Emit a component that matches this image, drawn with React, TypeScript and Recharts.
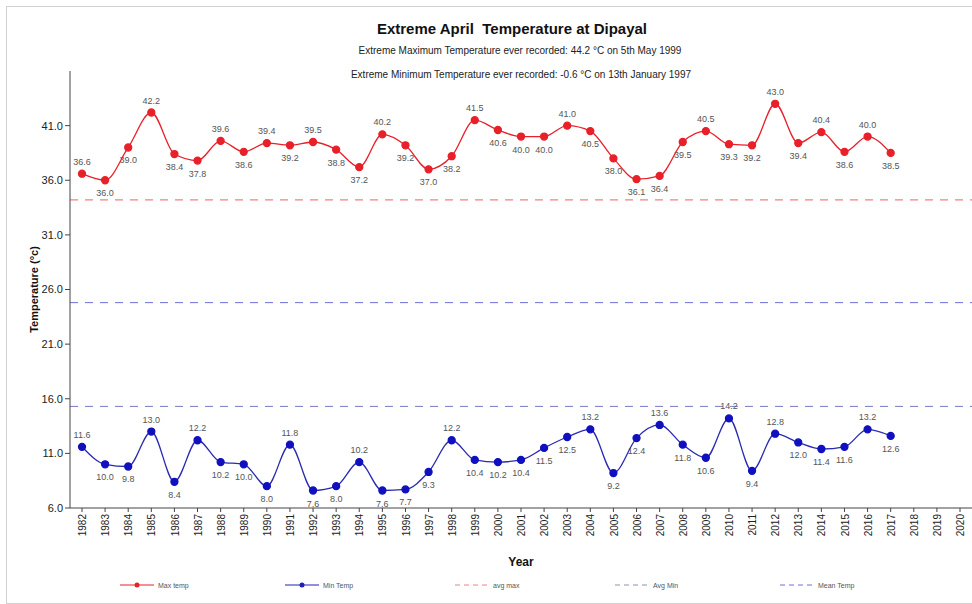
import React from 'react'
import { LineChart, Line, XAxis, YAxis, ReferenceLine, Legend } from 'recharts'

const years = [
  1982, 1983, 1984, 1985, 1986, 1987, 1988, 1989, 1990, 1991, 1992, 1993, 1994,
  1995, 1996, 1997, 1998, 1999, 2000, 2001, 2002, 2003, 2004, 2005, 2006, 2007,
  2008, 2009, 2010, 2011, 2012, 2013, 2014, 2015, 2016, 2017, 2018, 2019, 2020,
]
const maxTemp = [
  36.6, 36.0, 39.0, 42.2, 38.4, 37.8, 39.6, 38.6, 39.4, 39.2, 39.5, 38.8, 37.2,
  40.2, 39.2, 37.0, 38.2, 41.5, 40.6, 40.0, 40.0, 41.0, 40.5, 38.0, 36.1, 36.4,
  39.5, 40.5, 39.3, 39.2, 43.0, 39.4, 40.4, 38.6, 40.0, 38.5,
]
const minTemp = [
  11.6, 10.0, 9.8, 13.0, 8.4, 12.2, 10.2, 10.0, 8.0, 11.8, 7.6, 8.0, 10.2,
  7.6, 7.7, 9.3, 12.2, 10.4, 10.2, 10.4, 11.5, 12.5, 13.2, 9.2, 12.4, 13.6,
  11.8, 10.6, 14.2, 9.4, 12.8, 12.0, 11.4, 11.6, 13.2, 12.6,
]
const avgMax = 34.2
const avgMin = 15.3
const meanTemp = 24.8
const yTicks = [6, 11, 16, 21, 26, 31, 36, 41]

const data = years.map((year, i) => ({
  year: String(year),
  max: maxTemp[i],
  min: minTemp[i],
}))

const FONT = '"Liberation Sans", Arial, sans-serif'

// label above for local peaks, below otherwise
const makeLabel = (values: number[]) => (props: any) => {
  const { x, y, index, value } = props
  if (value == null) return null
  const prev = index > 0 ? values[index - 1] : -Infinity
  const next = index < values.length - 1 ? values[index + 1] : -Infinity
  const above = value >= prev && value >= next
  return (
    <text x={x} y={above ? y - 9 : y + 16} textAnchor="middle" fontSize={9} fill="#555" fontFamily={FONT}>
      {value.toFixed(1)}
    </text>
  )
}

const legendItems = [
  { name: 'Max temp', color: '#e8202a', dash: '', dot: true, left: 120 },
  { name: 'Min Temp', color: '#2020b8', dash: '', dot: true, left: 285 },
  { name: 'avg max', color: '#f08080', dash: '5 4', dot: false, left: 455 },
  { name: 'Avg Min', color: '#9090b0', dash: '5 4', dot: false, left: 615 },
  { name: 'Mean Temp', color: '#7070d8', dash: '5 4', dot: false, left: 780 },
]

const renderLegend = () => (
  <div style={{ position: 'relative', width: 972, height: 30 }}>
    {legendItems.map((it) => (
      <div key={it.name} style={{ position: 'absolute', left: it.left, top: 6, display: 'flex', alignItems: 'center' }}>
        <svg width={36} height={10}>
          <line x1={0} y1={5} x2={34} y2={5} stroke={it.color} strokeWidth={1} strokeDasharray={it.dash} />
          {it.dot && <circle cx={17} cy={5} r={2.5} fill={it.color} />}
        </svg>
        <span style={{ fontSize: 7, color: '#555', fontFamily: FONT, marginLeft: 2 }}>{it.name}</span>
      </div>
    ))}
  </div>
)

const App = () => {
  return (
    <div style={{ position: 'absolute', left: 0, top: 0, width: 972, height: 604, background: '#fff', fontFamily: FONT }}>
      <div style={{ position: 'absolute', left: 6, top: 6, width: 970, height: 596, border: '1px solid #d0d0d0' }} />
      <div style={{ position: 'absolute', top: 20, left: 0, width: 1024, textAlign: 'center', fontSize: 15, fontWeight: 'bold', color: '#111' }}>
        Extreme April&nbsp; Temperature at Dipayal
      </div>
      <div style={{ position: 'absolute', top: 45, left: 0, width: 1040, textAlign: 'center', fontSize: 10, color: '#222' }}>
        Extreme Maximum Temperature ever recorded: 44.2 °C on 5th May 1999
      </div>
      <div style={{ position: 'absolute', top: 69, left: 0, width: 1042, textAlign: 'center', fontSize: 10, color: '#222' }}>
        Extreme Minimum Temperature ever recorded: -0.6 °C on 13th January 1997
      </div>
      <LineChart
        width={972}
        height={604}
        data={data}
        margin={{ top: 71, right: 0, bottom: 0, left: 0 }}
        style={{ position: 'absolute', left: 0, top: 0 }}
      >
        <XAxis
          dataKey="year"
          interval={0}
          padding={{ left: 12, right: 12 }}
          height={66}
          angle={-90}
          textAnchor="end"
          tick={{ fontSize: 10, fill: '#222', fontFamily: FONT, dx: -3 }}
          tickSize={4}
          stroke="#444"
          label={{ value: 'Year', position: 'insideBottom', offset: 8, fontSize: 12, fontWeight: 'bold', fill: '#111' }}
        />
        <YAxis
          domain={[6, 46]}
          ticks={yTicks}
          width={70}
          tickSize={5}
          stroke="#444"
          tickFormatter={(v: number) => v.toFixed(1)}
          tick={{ fontSize: 11, fill: '#222', fontFamily: FONT }}
          label={{ value: 'Temperature (°c)', angle: -90, position: 'insideLeft', offset: 34, fontSize: 11, fontWeight: 'bold', fill: '#111', style: { textAnchor: 'middle' } }}
        />
        <ReferenceLine y={avgMax} stroke="#f06060" strokeDasharray="8 7" />
        <ReferenceLine y={meanTemp} stroke="#7070d8" strokeDasharray="8 7" />
        <ReferenceLine y={avgMin} stroke="#7878c8" strokeDasharray="8 7" />
        <Line
          type="monotone"
          dataKey="max"
          stroke="#e8202a"
          strokeWidth={1.3}
          dot={{ r: 3.5, fill: '#e8202a', stroke: '#e8202a' }}
          label={makeLabel(maxTemp)}
          isAnimationActive={false}
        />
        <Line
          type="monotone"
          dataKey="min"
          stroke="#2a2ab0"
          strokeWidth={1.3}
          dot={{ r: 3.5, fill: '#1010c0', stroke: '#1010c0' }}
          label={makeLabel(minTemp)}
          isAnimationActive={false}
        />
        <Legend verticalAlign="bottom" height={30} content={renderLegend} />
      </LineChart>
    </div>
  )
}

export default App
